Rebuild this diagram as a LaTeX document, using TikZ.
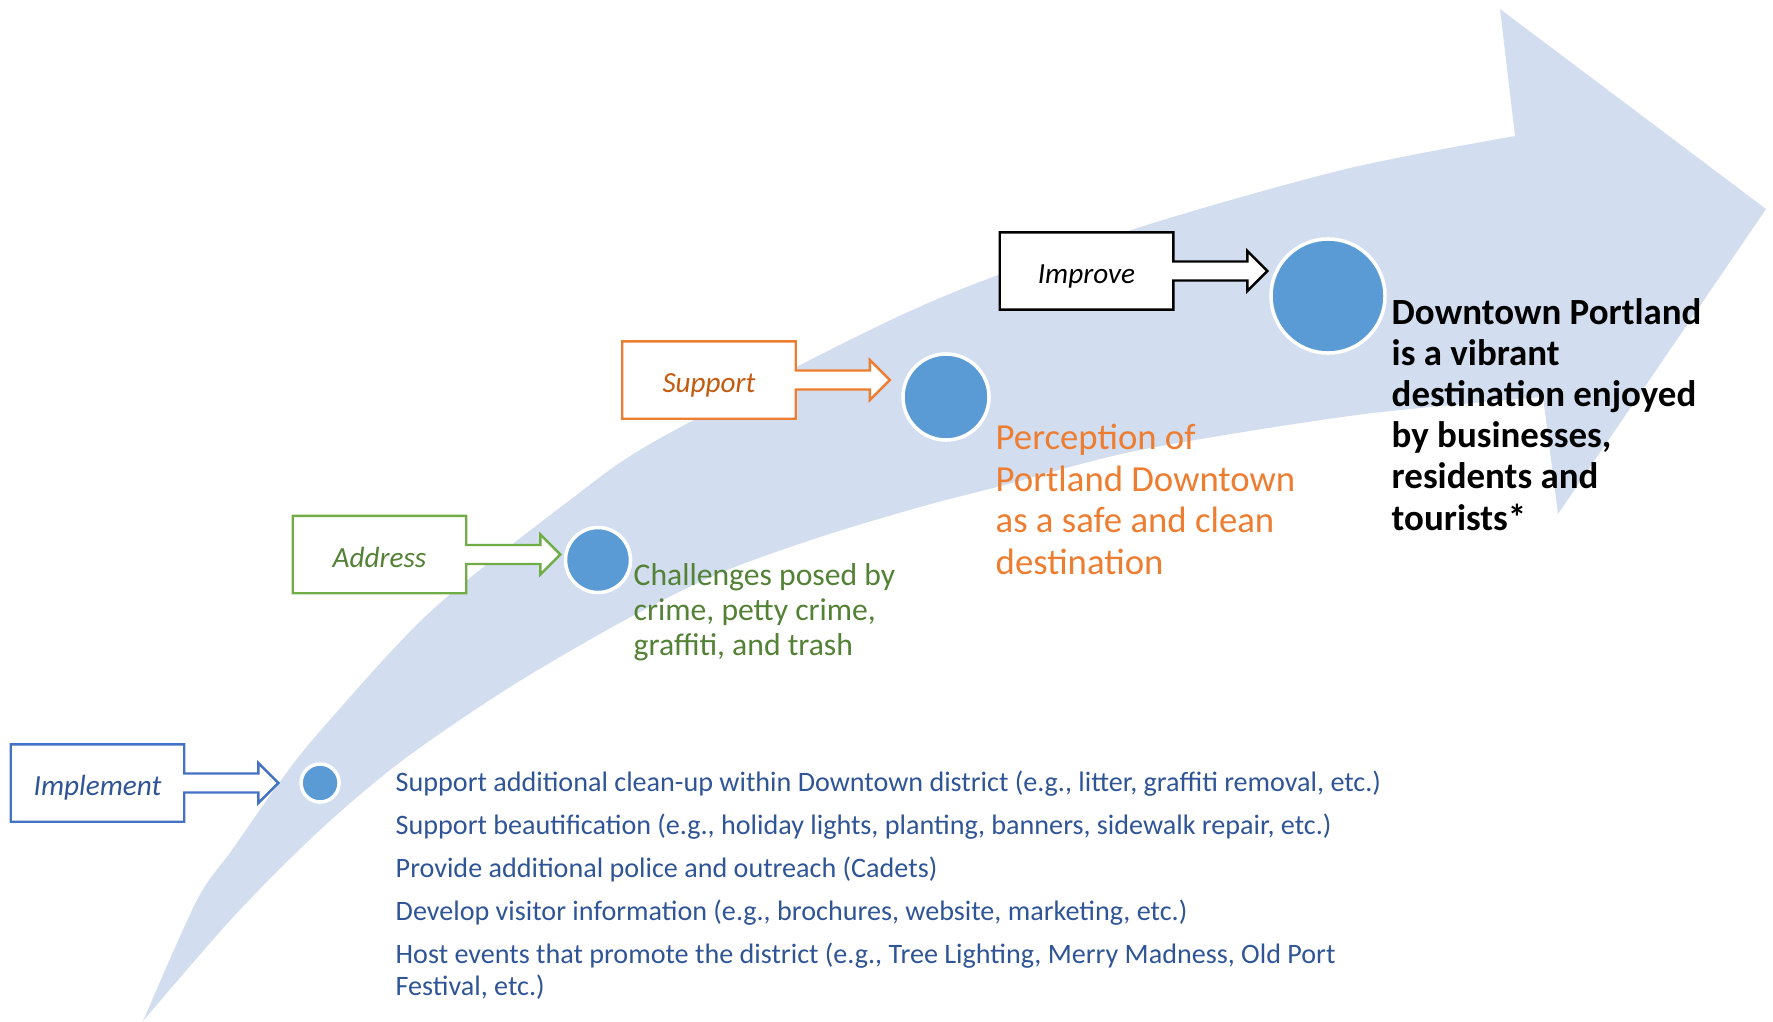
\documentclass[tikz,border=0pt]{standalone}
\usepackage{fontspec}
\setmainfont{Carlito}
\usetikzlibrary{positioning}

\definecolor{flowblue}{HTML}{D2DEEF}
\definecolor{dotblue}{HTML}{5B9BD5}
\definecolor{implline}{HTML}{4472C4}
\definecolor{impltext}{HTML}{2F5597}
\definecolor{addrline}{HTML}{70AD47}
\definecolor{addrtext}{HTML}{538135}
\definecolor{suppline}{HTML}{ED7D31}
\definecolor{supptext}{HTML}{C55A11}

\pgfdeclarelayer{back}
\pgfdeclarelayer{mid}
\pgfsetlayers{back,mid,main}

\tikzset{
  stepbox/.style={minimum width=1.72cm,minimum height=0.76cm,inner sep=0pt,
    text height=0.9em,text depth=0.18em,
    font=\fontsize{8.3}{10}\selectfont\itshape},
  stepdot/.style={circle,fill=dotblue,draw=white,line width=1pt,inner sep=0pt},
  outcome/.style={align=left,inner sep=0pt,anchor=base west}, % base = last line
}

% box with a fat arrow going out on its right side
\newcommand{\callout}[2]{%
  \begin{pgfonlayer}{mid}
  \draw[#2,line width=0.7pt,fill=white] (#1.north west) -- (#1.north east)
    -- ([yshift=0.095cm]#1.east) -- ++(0.74cm,0cm) -- ++(0cm,0.105cm)
    -- ++(0.2cm,-0.2cm) -- ++(-0.2cm,-0.2cm) -- ++(0cm,0.105cm)
    -- ([yshift=-0.095cm]#1.east) -- (#1.south east) -- (#1.south west)
    -- cycle ;
  \end{pgfonlayer}}

\begin{document}
\begin{tikzpicture}[x=0.01cm,y=-0.01cm]
        \useasboundingbox (0,0) rectangle (1773,1021) ;
        % the big curved arrow
        \begin{pgfonlayer}{back}
        \fill[flowblue] plot[smooth] coordinates {(143,1021) (197,900) (232,850)
          (279,783) (321,730) (430,612) (570,500) (657,440) (870,330)
          (990,278) (1163,220) (1350,168) (1515,136)}
          -- (1500,9) -- (1766,209) -- (1558,514) -- (1543,397)
          -- plot[smooth] coordinates {(1543,397) (1357,415) (1140,450) (997,487)
          (920,507) (820,537) (720,573) (625,620) (510,687) (403,760) (320,830)
          (235,915) (143,1021)} -- cycle ;
        \end{pgfonlayer}

        % steps
        \node[stepbox,text=impltext] (implement) at (97.5,783) {Implement} ;
        \node[stepbox,text=addrtext] (address) at (379.5,554.5) {Address} ;
        \node[stepbox,text=supptext] (support) at (709,380) {Support} ;
        \node[stepbox,text=black] (improve) at (1086.5,271) {Improve} ;
        \callout{implement}{implline}
        \callout{address}{addrline}
        \callout{support}{suppline}
        \callout{improve}{black}

        % dots
        \node[stepdot,minimum size=0.38cm,right=1.15cm of implement] (dotA) {} ;
        \node[stepdot,minimum size=0.65cm] (dotB) at (598,560) {} ;
        \node[stepdot,minimum size=0.86cm] (dotC) at (946,397) {} ;
        \node[stepdot,minimum size=1.14cm] (dotD) at (1328,296) {} ;

        % outcomes
        \node[outcome,text=addrtext,font=\fontsize{9}{9.95}\selectfont]
          (challenges) at (633,655)
          {Challenges posed by\\crime, petty crime,\\graffiti, and trash} ;
        \node[outcome,text=suppline,font=\fontsize{10.45}{11.8}\selectfont]
          (perception) at (995,574)
          {Perception of\\Portland Downtown\\as a safe and clean\\destination} ;
        \node[outcome,font=\fontsize{10.5}{11.7}\selectfont\bfseries]
          (vision) at (1391,530)
          {Downtown Portland\\is a vibrant\\destination enjoyed\\by businesses,\\residents and\\tourists*} ;
        \node[outcome,text=impltext,font=\fontsize{8}{9}\selectfont]
          (activities) at (395,995)
          {Support additional clean-up within Downtown district (e.g., litter, graffiti removal, etc.)\\[3.2pt]
           Support beautification (e.g., holiday lights, planting, banners, sidewalk repair, etc.)\\[3.2pt]
           Provide additional police and outreach (Cadets)\\[3.2pt]
           Develop visitor information (e.g., brochures, website, marketing, etc.)\\[3.2pt]
           Host events that promote the district (e.g., Tree Lighting, Merry Madness, Old Port\\
           Festival, etc.)} ;
\end{tikzpicture}
\end{document}
